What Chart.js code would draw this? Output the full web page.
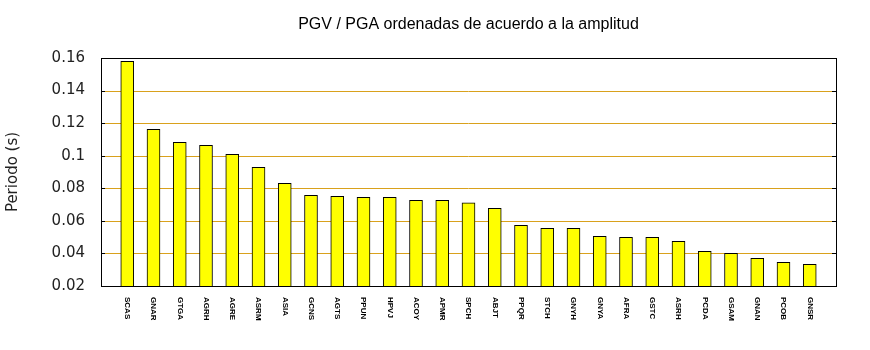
<!DOCTYPE html>
<html>
<head>
<meta charset="utf-8">
<script src="https://cdn.jsdelivr.net/npm/chart.js@4"></script>
<style>
  html, body { margin: 0; padding: 0; background: #fff; }
  #wrap { width: 870px; height: 350px; }
</style>
</head>
<body>
<div id="wrap"><canvas id="pgvChart"></canvas></div>
<script>
// stations, sorted by amplitude
const stations = ['SCAS','GNAR','GTGA','AGRH','AGRE','ASRM','ASIA','GCNS','AGTS','PPUN','HPVJ','ACOY','APMR',
  'SPCH','ABJT','PPQR','STCH','GNYH','GNYA','AFRA','GSTC','ASRH','PCDA','GSAM','GNAN','PCOB','GNSR']
const periods = [0.158, 0.1162, 0.1082, 0.1064, 0.1009, 0.0929, 0.0831, 0.0757, 0.0751, 0.0745, 0.0745,
  0.0726, 0.0726, 0.0710, 0.0677, 0.0573, 0.0554, 0.0554, 0.0505, 0.0499, 0.0499, 0.0474, 0.0413,
  0.0401, 0.0370, 0.0346, 0.0333]
const yTicks = [0.02, 0.04, 0.06, 0.08, 0.1, 0.12, 0.14, 0.16]

const titleText = 'PGV / PGA ordenadas de acuerdo a la amplitud'
const gridOrange = '#d9a11c'

// crisp orange grid lines under the bars
const grid = {
  id: 'grid',
  beforeDatasetsDraw(chart) {
    const { ctx, chartArea: a, scales } = chart
    ctx.save()
    ctx.strokeStyle = gridOrange
    ctx.lineWidth = 1
    ctx.beginPath()
    scales.y.ticks.forEach(t => {
      const y = Math.round(scales.y.getPixelForValue(t.value)) + 0.5
      ctx.moveTo(a.left, y); ctx.lineTo(a.right, y)
    })
    ctx.stroke()
    ctx.restore()
  }
}

// frame, inner tick marks, title and the vertical station names
const decor = {
  id: 'decor',
  afterDraw(chart) {
    const { ctx, chartArea: a, scales } = chart
    ctx.save()
    ctx.strokeStyle = '#000'
    ctx.lineWidth = 1
    ctx.strokeRect(Math.round(a.left) + 0.5, Math.round(a.top) + 0.5,
      Math.round(a.right - a.left), Math.round(a.bottom - a.top))

    ctx.beginPath()
    scales.y.ticks.forEach(t => {
      const y = Math.round(scales.y.getPixelForValue(t.value)) + 0.5
      ctx.moveTo(a.left, y); ctx.lineTo(a.left + 4, y)
      ctx.moveTo(a.right - 4, y); ctx.lineTo(a.right, y)
    })
    ctx.stroke()

    ctx.fillStyle = '#000'
    ctx.font = '16px "Liberation Sans", Arial, sans-serif'
    ctx.textAlign = 'center'
    ctx.textBaseline = 'middle'
    ctx.fillText(titleText, (a.left + a.right) / 2, 25)

    ctx.font = 'bold 8px "Liberation Sans", Arial, sans-serif'
    ctx.textAlign = 'left'
    stations.forEach((name, i) => {
      const x = scales.x.getPixelForValue(i)
      ctx.save()
      ctx.translate(x, a.bottom + 11)
      ctx.rotate(Math.PI / 2)
      ctx.fillText(name, 0, 0)
      ctx.restore()
    })
    ctx.restore()
  }
}

new Chart(document.getElementById('pgvChart'), {
  type: 'bar',
  data: {
    datasets: [{
      data: stations.map((s, i) => ({ x: i, y: periods[i] })),
      backgroundColor: '#ffff00',
      borderColor: '#000',
      borderWidth: 1,
      barThickness: 13
    }]
  },
  options: {
    responsive: true,
    maintainAspectRatio: false,
    animation: false,
    layout: { padding: { top: 58, bottom: 64, right: 34, left: 0 } },
    plugins: { legend: { display: false }, tooltip: { enabled: false } },
    scales: {
      x: {
        type: 'linear',
        min: -1,
        max: 27,
        offset: false,
        display: false
      },
      y: {
        min: 0.02,
        max: 0.16,
        afterFit: s => { s.width = 101 },
        afterBuildTicks: s => { s.ticks = yTicks.map(v => ({ value: v })) },
        border: { display: false },
        grid: { display: false },
        ticks: {
          padding: 8,
          color: '#222',
          font: { family: '"DejaVu Sans"', size: 15 },
          callback: v => String(parseFloat(v.toFixed(2)))
        },
        title: {
          display: true,
          text: 'Periodo (s)',
          color: '#222',
          font: { family: '"DejaVu Sans"', size: 15 }
        }
      }
    }
  },
  plugins: [grid, decor]
})
</script>
</body>
</html>
